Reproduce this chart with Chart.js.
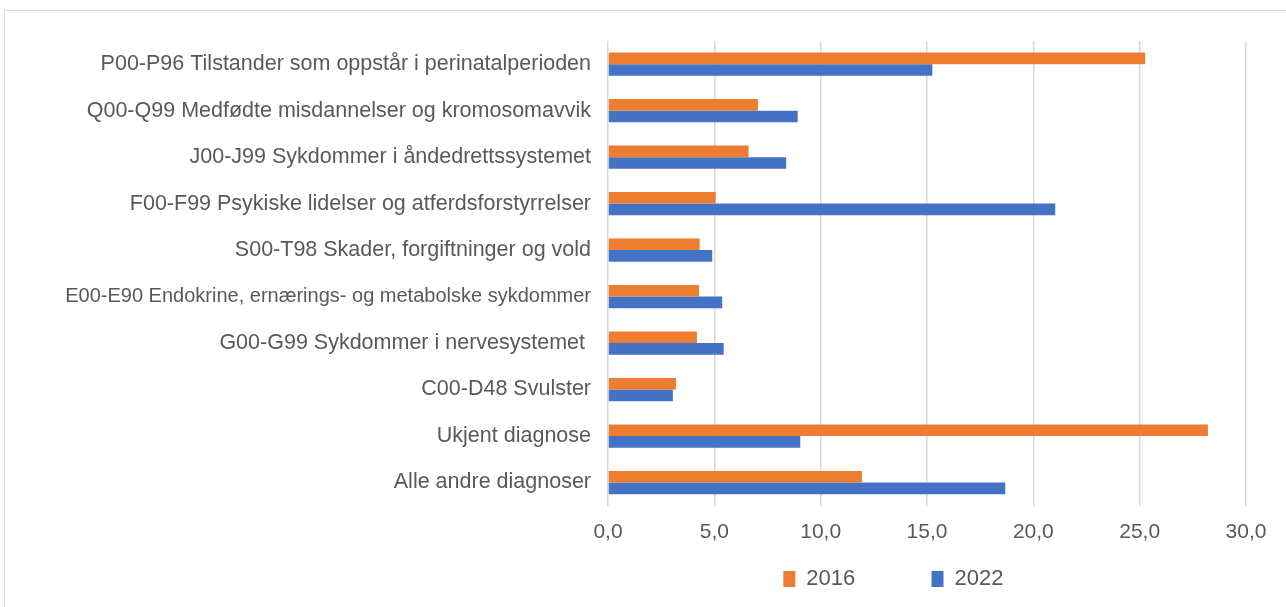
<!DOCTYPE html>
<html>
<head>
<meta charset="utf-8">
<script src="https://cdn.jsdelivr.net/npm/chart.js@4/dist/chart.umd.min.js"></script>
<style>
  html, body { margin: 0; padding: 0; background: #fff; overflow: hidden; }
  .frame { position: absolute; left: 4px; top: 10px; width: 1290px; height: 620px; border: 1px solid #d9d9d9; }
  canvas { display: block; }
</style>
</head>
<body>
<div class="frame">
  <canvas id="barChart" width="1290" height="589"></canvas>
</div>
<script>
// Kategorier (ovenfra og ned)
var categories = [
    'P00-P96 Tilstander som oppstår i perinatalperioden',
    'Q00-Q99 Medfødte misdannelser og kromosomavvik',
    'J00-J99 Sykdommer i åndedrettssystemet',
    'F00-F99 Psykiske lidelser og atferdsforstyrrelser',
    'S00-T98 Skader, forgiftninger og vold',
    'E00-E90 Endokrine, ernærings- og metabolske sykdommer',
    'G00-G99 Sykdommer i nervesystemet ',
    'C00-D48 Svulster',
    'Ukjent diagnose',
    'Alle andre diagnoser'
];

var values2016 = [25.26, 7.05, 6.61, 5.06, 4.31, 4.28, 4.18, 3.20, 28.21, 11.94];
var values2022 = [15.25, 8.92, 8.38, 21.03, 4.90, 5.37, 5.44, 3.05, 9.04, 18.68];

var seriesLabels = ['2016', '2022'];
var tickMin = 0, tickMax = 30, tickStep = 5;

var textColor = '#595959';
var fontFamily = '"Liberation Sans", Arial, sans-serif';

// Bar chart
var ctxBar = document.getElementById('barChart').getContext('2d');
var barChart = new Chart(ctxBar, {
    type: 'bar',
    data: {
        labels: categories,
        datasets: [{
            label: seriesLabels[0],
            data: values2016,
            backgroundColor: '#ED7D31',
            borderWidth: 0
        }, {
            label: seriesLabels[1],
            data: values2022,
            backgroundColor: '#4472C4',
            borderWidth: 0
        }]
    },
    options: {
        indexAxis: 'y',
        responsive: false,
        animation: false,
        categoryPercentage: 0.5,
        barPercentage: 1.0,
        layout: {
            padding: { top: 29, right: 49, bottom: 0, left: 0 }
        },
        scales: {
            x: {
                min: tickMin,
                max: tickMax,
                border: { display: false },
                grid: { color: '#d9d9d9', lineWidth: 1.5, drawTicks: false },
                ticks: {
                    stepSize: tickStep,
                    padding: 14,
                    color: textColor,
                    font: { family: fontFamily, size: 21, lineHeight: 1.2 },
                    callback: function(value) {
                        return value.toFixed(1).replace('.', ',');
                    }
                }
            },
            y: {
                border: { display: false },
                grid: { display: false, drawTicks: false },
                ticks: {
                    padding: 17,
                    color: textColor,
                    font: function(c) {
                        // den lange E00-etiketten er trangere i originalen
                        return { family: fontFamily, size: c.index === 5 ? 20 : 21.5 };
                    }
                },
                afterFit: function(scale) {
                    scale.width = 603;
                }
            }
        },
        plugins: {
            tooltip: { enabled: false },
            legend: {
                position: 'bottom',
                fullSize: false,
                labels: {
                    boxWidth: 12,
                    boxHeight: 16,
                    padding: 9,
                    color: textColor,
                    font: { family: fontFamily, size: 22 },
                    generateLabels: function(chart) {
                        // ekstra mellomrom gir samme avstand som i originalen
                        var gap = '           ';
                        return chart.data.datasets.map(function(ds, i) {
                            return {
                                text: ds.label + gap,
                                fillStyle: ds.backgroundColor,
                                strokeStyle: ds.backgroundColor,
                                lineWidth: 0,
                                fontColor: textColor,
                                hidden: false,
                                datasetIndex: i
                            };
                        });
                    }
                }
            }
        }
    }
});
</script>
</body>
</html>
